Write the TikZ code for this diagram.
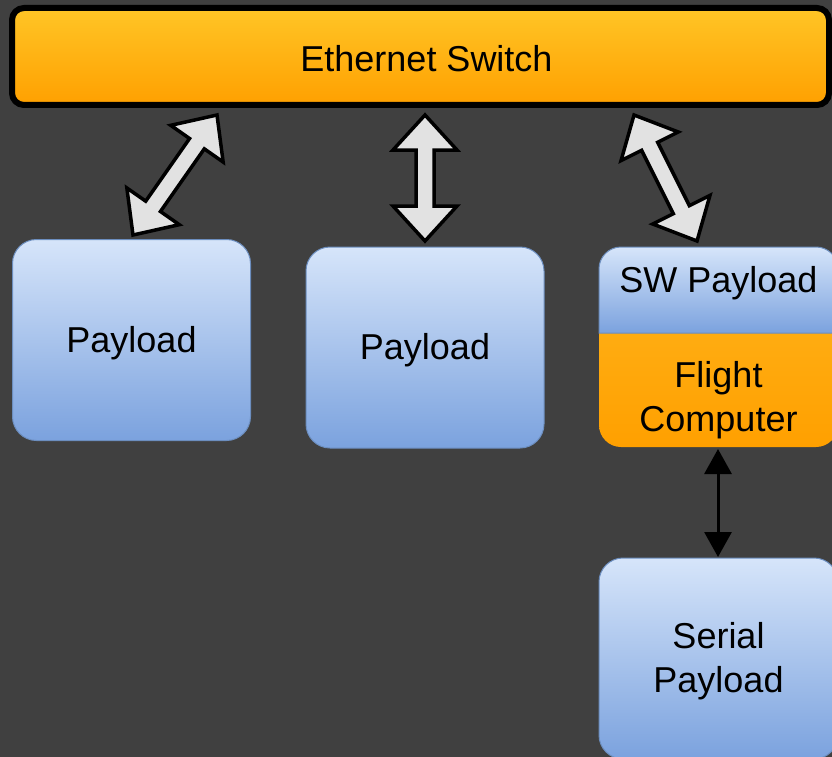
\documentclass[tikz,border=0pt]{standalone}
\usepackage{fontspec}
\setmainfont{Liberation Sans}
\usetikzlibrary{calc,arrows.meta}
\definecolor{bg}{HTML}{404040}
\definecolor{orTop}{HTML}{FFC526}
\definecolor{orBot}{HTML}{FFA000}
\definecolor{fcTop}{HTML}{FFB51E}
\definecolor{blTop}{HTML}{D6E5FA}
\definecolor{blBot}{HTML}{7BA2DE}
\definecolor{blLine}{HTML}{6C8EBF}
\definecolor{arrFill}{HTML}{E2E2E2}
\tikzset{
  lbl/.style={font=\fontsize{36}{44}\selectfont, text=black, align=center, inner sep=0pt, yshift=-3pt},
  bluebox/.style={draw=blLine, line width=1pt, rounded corners=24pt, top color=blTop, bottom color=blBot,
    minimum width=238pt, minimum height=201pt, inner sep=0pt},
  ethbox/.style={draw=black, line width=6pt, rounded corners=12pt, top color=orTop, bottom color=orBot,
    minimum width=817pt, minimum height=97pt, inner sep=0pt},
  barrow/.style={draw=black, fill=arrFill, line width=3.5pt, line join=miter},
  thinarrow/.style={draw=black, line width=3pt, {Triangle[width=27pt,length=25pt]}-{Triangle[width=27pt,length=25pt]}}
}
\newcommand\blockarrow[2]{%
  \draw[barrow] let \p1=($(#2)-(#1)$), \n1={veclen(\x1,\y1)}, \n2={atan2(\y1,\x1)} in
  [shift={(#1)}, rotate=\n2]
  (0pt,0pt) -- (35pt,32pt) -- (35pt,9pt) -- (\n1-35pt,9pt) -- (\n1-35pt,32pt) -- (\n1,0pt)
  -- (\n1-35pt,-32pt) -- (\n1-35pt,-9pt) -- (35pt,-9pt) -- (35pt,-32pt) -- cycle;}
\begin{document}
\begin{tikzpicture}[x=1pt,y=-1pt]
\useasboundingbox (0,0) rectangle (832,757);
\fill[bg] (0,0) rectangle (832,757);
\clip (0,0) rectangle (832,757);

% Ethernet switch
\node[ethbox] (eth) at (420.5,56.5) {};
\node[lbl] (ethl) at (426.5,56) {Ethernet Switch};

% Payloads
\node[bluebox] (p1) at (131.5,340) {};
\node[lbl] at (p1.center) {Payload};
\node[bluebox] (p2) at (425,347.5) {};
\node[lbl] at (p2.center) {Payload};

% Flight computer with SW payload
\node[draw=none, rounded corners=22pt, top color=fcTop, bottom color=orBot,
  minimum width=239pt, minimum height=200pt, inner sep=0pt] (fc) at (718.5,347) {};
\path[draw=blLine, line width=1pt, top color=blTop, bottom color=blBot]
  (599,333) [rounded corners=22pt] -- (599,247) -- (838,247) [sharp corners] -- (838,333) -- cycle;
\node[lbl] (sw) at (718.5,280) {SW Payload};
\node[lbl] (fcl) at (718.5,397) {Flight\\Computer};

% Serial payload
\node[bluebox, minimum width=239pt] (sp) at (718.5,658.5) {};
\node[lbl] at (sp.center) {Serial\\Payload};

% connector end points
\coordinate (a1s) at (133,235);
\coordinate (a1e) at (217,115);
\coordinate (a2s) at (425,241);
\coordinate (a2e) at (425,115);
\coordinate (a3s) at (697,241);
\coordinate (a3e) at (634,115);
\coordinate (t1) at (718,449);
\coordinate (t2) at (718,557);

\blockarrow{a1s}{a1e}
\blockarrow{a2s}{a2e}
\blockarrow{a3s}{a3e}
\draw[thinarrow] (t1) -- (t2);
\end{tikzpicture}
\end{document}
